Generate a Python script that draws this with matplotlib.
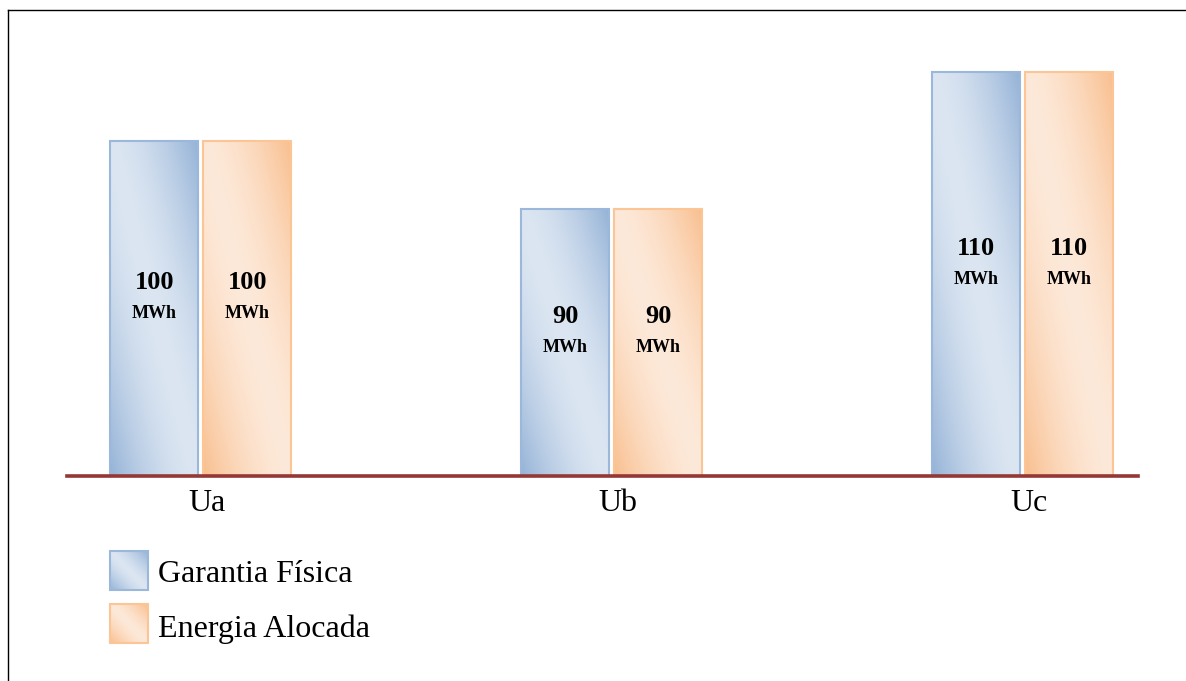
import numpy as np
import matplotlib
matplotlib.use("Agg")
import matplotlib.pyplot as plt
from matplotlib.colors import to_rgb
from matplotlib.patches import Rectangle

# ---- data -------------------------------------------------------------
categories = ["Ua", "Ub", "Uc"]
series_names = ["Garantia Física", "Energia Alocada"]
garantia_fisica = [100, 90, 110]
energia_alocada = [100, 90, 110]
unit = "MWh"

# ---- styling ----------------------------------------------------------
plt.rcParams["font.family"] = ["Liberation Serif", "DejaVu Serif"]

styles = [
    dict(light="#dce6f2", dark="#95b3d7", edge="#9bb8db"),   # blue
    dict(light="#fde9d9", dark="#f9bf8f", edge="#fbc596"),   # orange
]
baseline_color = "#953735"

W, H = 1186, 681
fig = plt.figure(figsize=(W / 100, H / 100), dpi=100)

# main axes placed in pixel terms
ax_left, ax_right, ax_bottom, ax_top = 67, 1138, 476, 20
ax = fig.add_axes([ax_left / W, (H - ax_bottom) / H,
                   (ax_right - ax_left) / W, (ax_bottom - ax_top) / H])

y_floor = 51.05
y_ceil = 117.62
ax.set_ylim(y_floor, y_ceil)
ax.set_xlim(-0.3262, 2.2812)


def gradient_image(light, dark, nx=80, ny=240, gamma=1.6):
    """Diagonal reflected gradient: light along TL-BR diagonal, dark at TR / BL corners."""
    lx = np.array(to_rgb(light))
    dk = np.array(to_rgb(dark))
    X, Y = np.meshgrid(np.linspace(0, 1, nx), np.linspace(0, 1, ny))
    t = np.abs(X - Y) ** gamma
    return lx[None, None, :] * (1 - t[..., None]) + dk[None, None, :] * t[..., None]


x = np.arange(len(categories))
bar_w = 0.2142
offsets = [-0.1132, 0.1132]
all_series = [garantia_fisica, energia_alocada]

for s_idx, (vals, st) in enumerate(zip(all_series, styles)):
    bars = ax.bar(x + offsets[s_idx], vals, width=bar_w, facecolor="none",
                  edgecolor=st["edge"], linewidth=1.5, zorder=3)
    img = gradient_image(st["light"], st["dark"])
    for rect, v in zip(bars, vals):
        x0 = rect.get_x()
        x1 = x0 + rect.get_width()
        im = ax.imshow(img, extent=(x0, x1, y_floor, v), origin="upper",
                       aspect="auto", zorder=2, interpolation="bilinear")
        im.set_clip_path(rect)
        # value label in the middle of the visible bar
        xc = x0 + rect.get_width() / 2
        ymid = (y_floor + v) / 2
        ax.annotate(f"{v}", (xc, ymid), xytext=(0, 18.7), textcoords="offset points",
                    ha="center", va="center", fontsize=19, fontweight="bold",
                    color="black", zorder=5)
        ax.annotate(unit, (xc, ymid), xytext=(0, -3.8), textcoords="offset points",
                    ha="center", va="center", fontsize=13, fontweight="bold",
                    color="black", zorder=5)

ax.set_xlim(-0.3262, 2.2812)
ax.set_ylim(y_floor, y_ceil)

# category labels under the baseline
for xi, cat in zip(x, categories):
    ax.annotate(cat, (xi, y_floor), xytext=(4.5, -19.5), textcoords="offset points",
                ha="center", va="center", fontsize=23, color="black",
                annotation_clip=False)

for side in ["top", "right", "left"]:
    ax.spines[side].set_visible(False)
ax.spines["bottom"].set_color(baseline_color)
ax.spines["bottom"].set_linewidth(2.6)
ax.spines["bottom"].set_zorder(4)
ax.set_xticks([])
ax.set_yticks([])
ax.patch.set_alpha(0)

# overlay in pixel coordinates for the frame and legend
ov = fig.add_axes([0, 0, 1, 1], zorder=-1)
ov.set_axis_off()
ov.plot([8, W], [10, 10], color="black", lw=1.0)
ov.plot([8, 8], [10, H], color="black", lw=1.0)

legend_rows = [(551, 590, 575), (604, 643, 629)]
for name, st, (ytop, ybot, ytext) in zip(series_names, styles, legend_rows):
    sq = Rectangle((110, ytop), 38, ybot - ytop, facecolor="none",
                   edgecolor=st["edge"], linewidth=1.5, zorder=3)
    ov.add_patch(sq)
    im = ov.imshow(gradient_image(st["light"], st["dark"], 60, 60, 1.4),
                   extent=(110, 148, ybot, ytop), origin="upper", aspect="auto",
                   zorder=2, interpolation="bilinear")
    im.set_clip_path(sq)
    ov.text(158, ytext, name, ha="left", va="center", fontsize=23, color="black")

ov.set_xlim(0, W)
ov.set_ylim(H, 0)

fig.savefig("out.png", dpi=100)
